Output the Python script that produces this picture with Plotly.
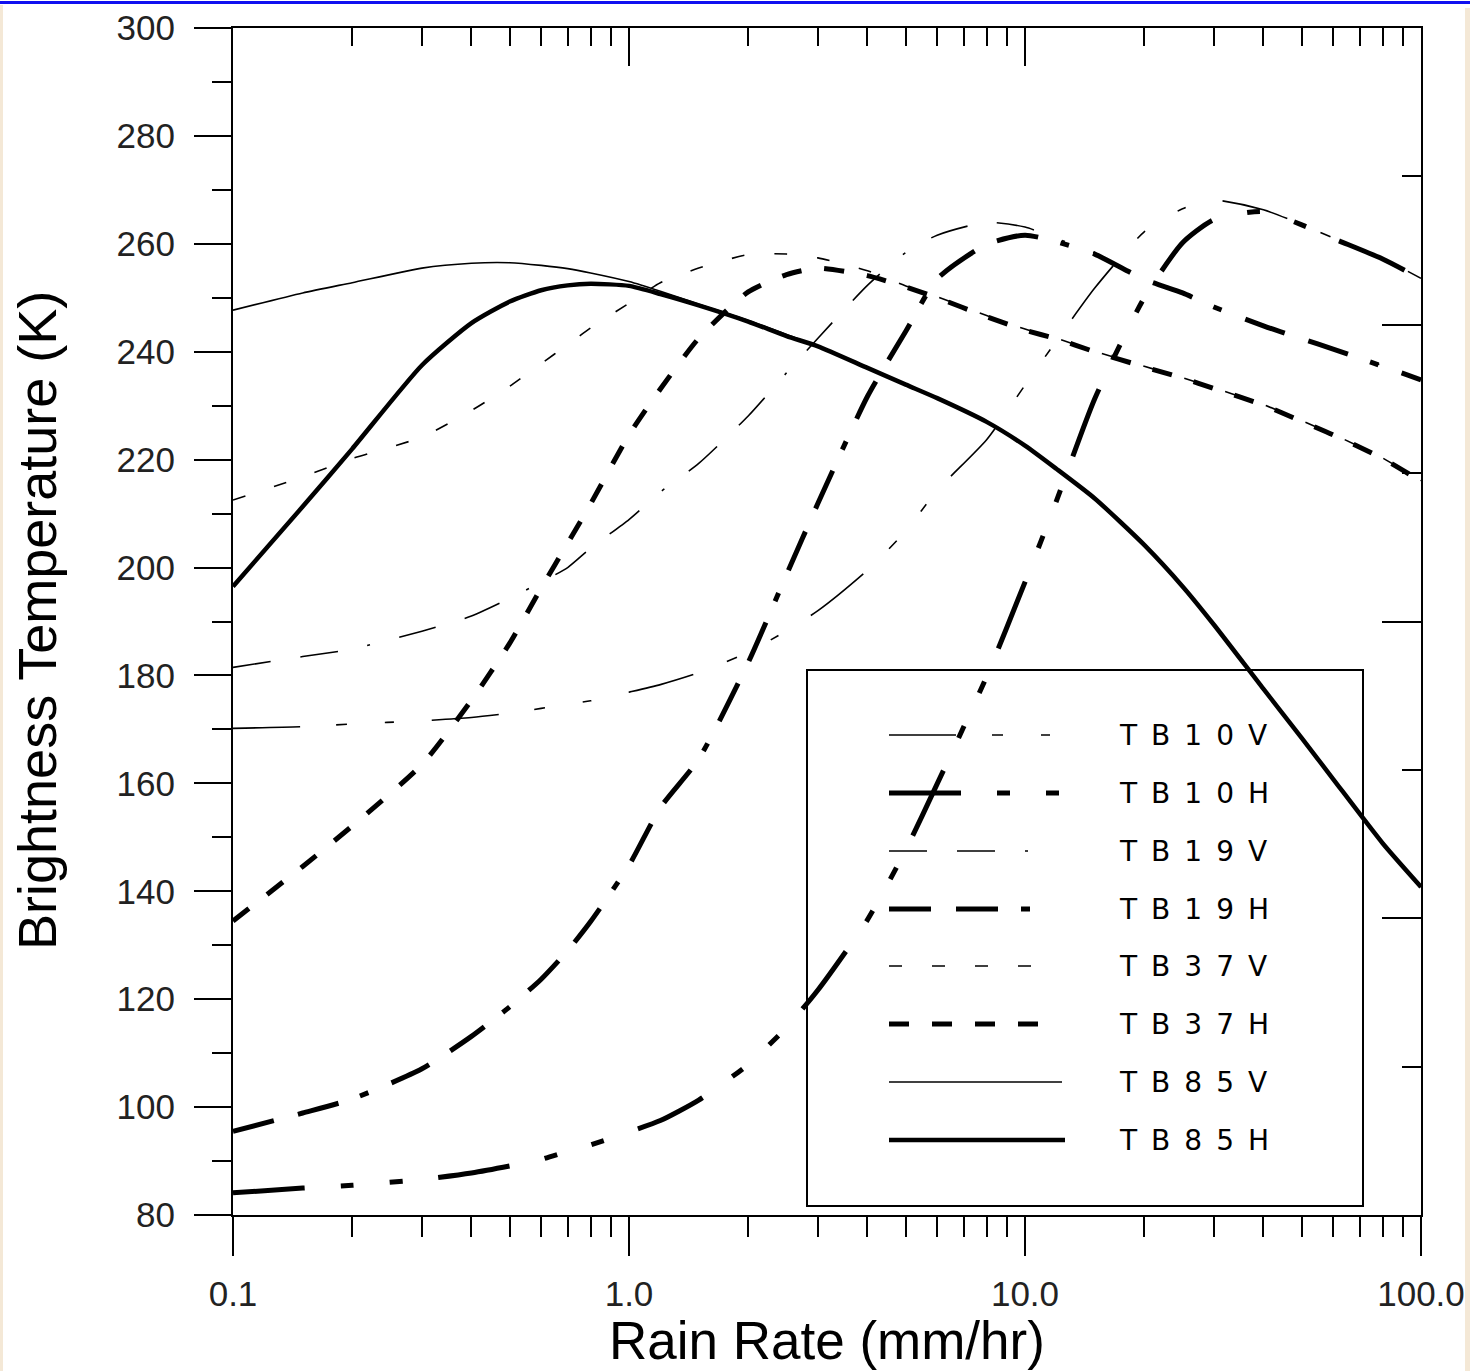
import plotly.graph_objects as go

# ---------------- data ----------------
RAIN = [0.1, 0.15, 0.2, 0.3, 0.4, 0.5, 0.6, 0.7, 0.8, 1.0, 1.2, 1.5, 2, 2.5, 3,
        4, 5, 6, 8, 10, 12, 15, 20, 25, 30, 40, 50, 60, 80, 100]

TB10V = [170.2, 170.5, 171.0, 171.6, 172.2, 173.0, 173.9, 174.7, 175.3, 176.9, 178.3, 180.5, 184.3, 188.3, 192.0,
         199.5, 206.8, 214.3, 223.7, 233.8, 242.0, 251.8, 262.2, 266.5, 268.1, 266.3, 263.6, 261.1, 257.3, 253.6]
TB10H = [84.1, 85.0, 85.5, 86.6, 87.8, 89.1, 90.3, 91.8, 93.0, 95.4, 97.5, 101.3, 107.9, 114.8, 121.7,
         134.7, 147.7, 159.9, 179.8, 197.3, 212.3, 231.3, 250.0, 260.2, 264.5, 266.0, 263.5, 261.0, 257.2, 253.5]
TB19V = [181.5, 183.5, 184.9, 188.2, 191.0, 194.3, 197.3, 200.0, 203.6, 208.9, 214.0, 219.3, 228.1, 236.1, 242.5,
         252.3, 258.4, 261.6, 264.0, 263.1, 261.0, 258.3, 253.5, 251.0, 248.4, 244.9, 242.5, 240.6, 237.4, 234.8]
TB19H = [95.5, 98.9, 101.5, 107.1, 113.1, 118.6, 123.7, 129.0, 134.4, 144.8, 155.5, 164.5, 182.4, 198.7, 211.9,
         231.7, 243.8, 253.5, 259.9, 261.6, 260.4, 258.1, 253.4, 250.9, 248.3, 244.8, 242.4, 240.5, 237.3, 234.8]
TB37V = [212.5, 216.8, 220.2, 224.2, 229.1, 233.6, 237.8, 241.3, 244.4, 249.0, 252.8, 255.5, 258.0, 258.1, 257.4,
         255.0, 252.2, 250.2, 246.7, 244.2, 242.5, 240.1, 237.3, 235.2, 233.3, 230.2, 227.2, 224.7, 220.3, 216.1]
TB37H = [134.5, 144.6, 152.1, 163.5, 175.4, 186.0, 196.2, 204.5, 211.8, 224.6, 233.1, 242.5, 251.1, 254.3, 255.5,
         254.1, 252.0, 250.0, 246.5, 244.0, 242.4, 240.0, 237.2, 235.1, 233.2, 230.1, 227.1, 224.6, 220.2, 216.0]
TB85V = [247.7, 250.9, 252.8, 255.5, 256.4, 256.5, 256.0, 255.4, 254.6, 253.0, 251.2, 248.8, 245.8, 243.2, 241.0,
         237.0, 233.9, 231.4, 227.0, 222.6, 218.3, 212.8, 204.2, 196.5, 189.4, 177.5, 168.4, 160.8, 148.9, 140.8]
TB85H = [196.5, 211.3, 222.0, 237.5, 245.3, 249.3, 251.4, 252.3, 252.6, 252.2, 250.7, 248.6, 245.6, 242.9, 241.0,
         237.0, 233.9, 231.4, 227.0, 222.6, 218.3, 212.8, 204.2, 196.5, 189.4, 177.5, 168.4, 160.8, 148.9, 140.8]

NAMES = ["TB10V", "TB10H", "TB19V", "TB19H", "TB37V", "TB37H", "TB85V", "TB85H"]
SERIES = [TB10V, TB10H, TB19V, TB19H, TB37V, TB37H, TB85V, TB85H]

X_TICKS = [0.1, 1, 10, 100]
X_TICKTEXT = ["0.1", "1.0", "10.0", "100.0"]
X_MINOR = [m * d for d in (0.1, 1, 10) for m in range(2, 10)]
Y_TICKS = list(range(80, 301, 20))
Y_MINOR = list(range(90, 300, 20))

# ---------------- styles ----------------
THIN, THICK = 1.6, 5
STYLE = {
    "TB10V": (THIN, "67px,36px,11px,38px,9px,38px"),
    "TB10H": (THICK, "72px,36px,13px,36px,13px,36px"),
    "TB19V": (THIN, "38px,30px,38px,30px,3px,30px"),
    "TB19H": (THICK, "42px,25px,42px,23px,9px,25px"),
    "TB37V": (THIN, "13px,30px"),
    "TB37H": (THICK, "20px,23px"),
    "TB85V": (THIN, "solid"),
    "TB85H": (4.5, "solid"),
}
FONT = "Liberation Sans, Arial, sans-serif"
LEGEND_FONT = "DejaVu Sans, Verdana, sans-serif"

fig = go.Figure()
for name, vals in zip(NAMES, SERIES):
    w, d = STYLE[name]
    fig.add_trace(go.Scatter(x=RAIN, y=vals, name=name, mode="lines",
                             line=dict(color="black", width=w, dash=d, shape="spline", smoothing=0.6),
                             showlegend=False))
# carrier trace for the mirrored top/right axes
fig.add_trace(go.Scatter(x=[None], y=[None], xaxis="x2", yaxis="y2",
                         hoverinfo="skip", showlegend=False))

tickfont = dict(family=FONT, size=35, color="#222222")
common = dict(showline=True, linecolor="black", linewidth=2, tickwidth=2, tickcolor="black",
              showgrid=False, zeroline=False, automargin=False)
fig.update_layout(
    template="none",
    width=1470, height=1371,
    margin=dict(l=233, r=49, t=28, b=156, pad=0),
    paper_bgcolor="white", plot_bgcolor="white",
    showlegend=False,
    xaxis=dict(type="log", range=[-1, 2], ticks="outside", ticklen=39,
               tickvals=X_TICKS, ticktext=X_TICKTEXT, tickfont=tickfont,
               minor=dict(tickvals=X_MINOR, ticklen=20, tickwidth=2, tickcolor="black", ticks="outside"),
               ticklabelstandoff=8, ticklabeloverflow="allow", **common),
    xaxis2=dict(type="log", range=[-1, 2], overlaying="x", side="top", anchor="y",
                ticks="inside", ticklen=38, tickvals=X_TICKS, showticklabels=False,
                minor=dict(tickvals=X_MINOR, ticklen=18, tickwidth=2, tickcolor="black", ticks="inside"),
                **common),
    yaxis=dict(range=[80, 300], ticks="outside", ticklen=37,
               tickvals=Y_TICKS, tickfont=tickfont,
               minor=dict(tickvals=Y_MINOR, ticklen=19, tickwidth=2, tickcolor="black", ticks="outside"),
               ticklabelstandoff=12, ticklabeloverflow="allow", **common),
    yaxis2=dict(range=[0, 8], overlaying="y", side="right", anchor="x",
                ticks="inside", ticklen=39, tickvals=[0, 2, 4, 6, 8], showticklabels=False,
                minor=dict(tickvals=[1, 3, 5, 7], ticklen=19, tickwidth=2, tickcolor="black", ticks="inside"),
                **common),
)

def px_x(p):
    return (p - 233) / 1188.0

def px_y(p):
    return (1215 - p) / 1187.0

# axis titles
fig.add_annotation(text="Rain Rate (mm/hr)", xref="paper", yref="paper", x=px_x(827), y=px_y(1340),
                   xanchor="center", yanchor="middle", showarrow=False,
                   font=dict(family=FONT, size=53, color="black"))
fig.add_annotation(text="Brightness Temperature (K)", xref="paper", yref="paper", x=px_x(37), y=px_y(621),
                   xanchor="center", yanchor="middle", textangle=-90, showarrow=False,
                   font=dict(family=FONT, size=54, color="black"))

# window decoration seen at the picture's edges
fig.add_shape(type="rect", xref="paper", yref="paper", layer="below",
              x0=px_x(0), x1=px_x(1470), y0=px_y(4), y1=px_y(1),
              line=dict(width=0), fillcolor="#1010f0")
fig.add_shape(type="rect", xref="paper", yref="paper", layer="below",
              x0=px_x(0), x1=px_x(3), y0=px_y(1371), y1=px_y(5),
              line=dict(width=0), fillcolor="#f4e8d6")
fig.add_shape(type="rect", xref="paper", yref="paper", layer="below",
              x0=px_x(1465), x1=px_x(1470), y0=px_y(1371), y1=px_y(8),
              line=dict(width=0), fillcolor="#f4e8d6")

# ---------------- custom legend ----------------
fig.add_shape(type="rect", xref="paper", yref="paper",
              x0=px_x(807), x1=px_x(1363), y0=px_y(1206), y1=px_y(670),
              line=dict(color="black", width=2), fillcolor="rgba(0,0,0,0)")
ROW_Y = [735, 793, 851, 909, 966, 1024, 1082, 1140]
SAMPLE_END = {"TB10V": 1054, "TB10H": 1060, "TB19V": 1030, "TB19H": 1032,
              "TB37V": 1033, "TB37H": 1040, "TB85V": 1062, "TB85H": 1065}
for name, ry in zip(NAMES, ROW_Y):
    w, d = STYLE[name]
    fig.add_shape(type="line", xref="paper", yref="paper",
                  x0=px_x(889), x1=px_x(SAMPLE_END[name]), y0=px_y(ry), y1=px_y(ry),
                  line=dict(color="black", width=w, dash=d))
    fig.add_annotation(text="<span style='letter-spacing:14px'>%s</span>" % name,
                       xref="paper", yref="paper", x=px_x(1117), y=px_y(ry),
                       xanchor="left", yanchor="middle", showarrow=False,
                       font=dict(family=LEGEND_FONT, size=28, color="black"))

fig.write_html("out.html", config={"displayModeBar": False},
               post_script="document.body.style.margin='0';")
